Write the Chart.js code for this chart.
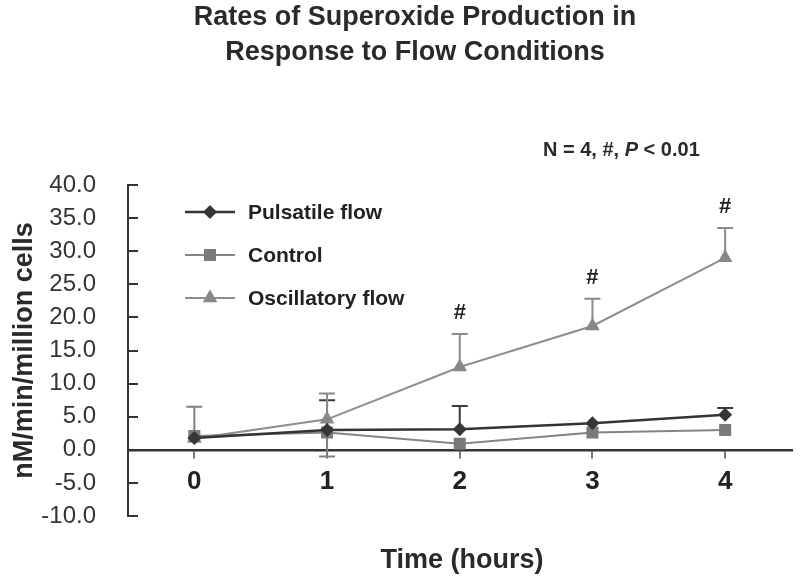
<!DOCTYPE html>
<html><head><meta charset="utf-8">
<script src="https://cdn.jsdelivr.net/npm/chart.js@4.4.0/dist/chart.umd.min.js"></script>
<style>html,body{margin:0;padding:0;background:#fff}#wrap{width:800px;height:580px;position:relative;background:#fff}</style>
</head><body><div id="wrap"><canvas id="c" width="800" height="580"></canvas></div>
<script>
// ---- data ----
const hours = [0, 1, 2, 3, 4];
const xTickLabels = ['0', '1', '2', '3', '4'];
const yTickValues = [-10, -5, 0, 5, 10, 15, 20, 25, 30, 35, 40];
const seriesNames = ['Pulsatile flow', 'Control', 'Oscillatory flow'];
const pulsatile = [1.8, 3.0, 3.1, 4.0, 5.3];
const pulsatileErrUp = [0, 4.5, 3.5, 0, 1.0];
const pulsatileErrDown = [0, 0, 0, 0, 0];
const control = [2.1, 2.6, 0.9, 2.6, 3.0];
const controlErrUp = [4.4, 0, 0, 0, 0];
const controlErrDown = [0, 3.6, 0, 0, 0];
const oscillatory = [1.7, 4.6, 12.5, 18.7, 29.0];
const oscillatoryErrUp = [0, 3.9, 5.0, 4.1, 4.5];
const oscillatoryErrDown = [0, 0, 0, 0, 0];
const significance = ['', '', '#', '#', '#'];
const titleLines = ['Rates of Superoxide Production in', 'Response to Flow Conditions'];
const yTitle = 'nM/min/million cells';
const xTitle = 'Time (hours)';

const FONT = "'Liberation Sans', Arial, Helvetica, sans-serif";

function pts(vals) { return hours.map((h, i) => ({ x: h, y: vals[i] })); }

function drawMarker(ctx, style, x, y, r, color) {
  ctx.save();
  ctx.fillStyle = color;
  ctx.beginPath();
  if (style === 'rectRot') {
    ctx.moveTo(x - r, y); ctx.lineTo(x, y - r); ctx.lineTo(x + r, y); ctx.lineTo(x, y + r);
  } else if (style === 'rect') {
    const s = Math.SQRT1_2 * r;
    ctx.rect(x - s, y - s, 2 * s, 2 * s);
  } else {
    ctx.moveTo(x, y - r);
    ctx.lineTo(x + 0.866 * r, y + 0.5 * r);
    ctx.lineTo(x - 0.866 * r, y + 0.5 * r);
  }
  ctx.closePath();
  ctx.fill();
  ctx.restore();
}

const datasets = [
  { label: seriesNames[0], data: pts(pulsatile), errUp: pulsatileErrUp, errDown: pulsatileErrDown,
    borderColor: '#333333', backgroundColor: '#333333', borderWidth: 2.5,
    pointStyle: 'rectRot', pointRadius: 7, pointBackgroundColor: '#363636', pointBorderColor: '#363636', pointBorderWidth: 0, errColor: '#3a3a3a' },
  { label: seriesNames[1], data: pts(control), errUp: controlErrUp, errDown: controlErrDown,
    borderColor: '#848484', backgroundColor: '#7a7a7a', borderWidth: 2,
    pointStyle: 'rect', pointRadius: 8.5, pointBackgroundColor: '#7a7a7a', pointBorderColor: '#7a7a7a', pointBorderWidth: 0, errColor: '#808080' },
  { label: seriesNames[2], data: pts(oscillatory), errUp: oscillatoryErrUp, errDown: oscillatoryErrDown,
    borderColor: '#8e8e8e', backgroundColor: '#888888', borderWidth: 2,
    pointStyle: 'triangle', pointRadius: 8.5, pointBackgroundColor: '#888888', pointBorderColor: '#888888', pointBorderWidth: 0, errColor: '#8a8a8a' }
];

const errorBars = {
  id: 'errorBars',
  beforeDatasetsDraw(chart) {
    const ctx = chart.ctx, xs = chart.scales.x, ys = chart.scales.y;
    chart.data.datasets.forEach(ds => {
      ctx.save();
      ctx.strokeStyle = ds.errColor; ctx.lineWidth = 2;
      ds.data.forEach((p, i) => {
        const px = xs.getPixelForValue(p.x);
        const y0 = ys.getPixelForValue(p.y);
        [[ds.errUp[i], 1], [ds.errDown[i], -1]].forEach(([e, dir]) => {
          if (!e) return;
          const ye = ys.getPixelForValue(p.y + dir * e);
          ctx.beginPath();
          ctx.moveTo(px, y0); ctx.lineTo(px, ye);
          ctx.moveTo(px - 8, ye); ctx.lineTo(px + 8, ye);
          ctx.stroke();
        });
      });
      ctx.restore();
    });
  },
  afterDraw(chart) {
    const ctx = chart.ctx, xs = chart.scales.x, ys = chart.scales.y;
    const area = chart.chartArea;
    ctx.save();
    // inward y ticks
    ctx.strokeStyle = '#333'; ctx.lineWidth = 2;
    ys.ticks.forEach(t => {
      const py = Math.round(ys.getPixelForValue(t.value));
      ctx.beginPath(); ctx.moveTo(area.left, py); ctx.lineTo(area.left + 10, py); ctx.stroke();
    });
    // significance marks
    ctx.fillStyle = '#222';
    ctx.font = `bold 22px ${FONT}`;
    ctx.textAlign = 'center'; ctx.textBaseline = 'middle';
    significance.forEach((s, i) => {
      if (!s) return;
      const py = ys.getPixelForValue(oscillatory[i] + oscillatoryErrUp[i]) - 21;
      ctx.fillText(s, xs.getPixelForValue(hours[i]), py);
    });
    // legend
    const rows = [212, 255, 298];
    chart.data.datasets.forEach((ds, i) => {
      const y = rows[i];
      ctx.strokeStyle = ds.borderColor; ctx.lineWidth = ds.borderWidth;
      ctx.beginPath(); ctx.moveTo(185, y); ctx.lineTo(235, y); ctx.stroke();
      drawMarker(ctx, ds.pointStyle, 210, y, ds.pointRadius, ds.pointBackgroundColor);
      ctx.fillStyle = '#222';
      ctx.font = `bold 21px ${FONT}`;
      ctx.textAlign = 'left'; ctx.textBaseline = 'middle';
      ctx.fillText(ds.label, 248, y + 1);
    });
    // title
    ctx.fillStyle = '#2a2a2a';
    ctx.font = `bold 27px ${FONT}`;
    ctx.textAlign = 'center'; ctx.textBaseline = 'alphabetic';
    ctx.fillText(titleLines[0], 415, 25);
    ctx.fillText(titleLines[1], 415, 60);
    // x title
    ctx.fillText(xTitle, 462, 568);
    // y title
    ctx.save();
    ctx.translate(32, (area.top + area.bottom) / 2);
    ctx.rotate(-Math.PI / 2);
    ctx.fillText(yTitle, 0, 0);
    ctx.restore();
    // N text
    ctx.textAlign = 'left';
    let x = 543; const by = 156;
    const segs = [['N = 4, #, ', 'bold'], ['P', 'italic bold'], [' < 0.01', 'bold']];
    segs.forEach(([t, st]) => {
      ctx.font = `${st} 20px ${FONT}`;
      ctx.fillText(t, x, by);
      x += ctx.measureText(t).width;
    });
    ctx.restore();
  }
};

new Chart(document.getElementById('c'), {
  type: 'line',
  data: { datasets },
  options: {
    responsive: false, animation: false, devicePixelRatio: 1,
    layout: { padding: { top: 185, right: 3, bottom: 64, left: 0 } },
    plugins: { legend: { display: false }, title: { display: false }, tooltip: { enabled: false } },
    elements: { line: { tension: 0 } },
    scales: {
      x: {
        type: 'linear', position: { y: 0 }, min: -0.5, max: 4.5,
        afterBuildTicks: s => { s.ticks = hours.map(v => ({ value: v })); },
        ticks: { callback: (v) => xTickLabels[hours.indexOf(v)], font: { family: FONT, size: 26, weight: 'bold' }, color: '#222', padding: 9, maxRotation: 0, autoSkip: false },
        grid: { drawOnChartArea: false, drawTicks: true, tickLength: 7, color: '#777', lineWidth: 2 },
        border: { display: true, color: '#333', width: 2.5 }
      },
      y: {
        min: -10, max: 40,
        afterBuildTicks: s => { s.ticks = yTickValues.map(v => ({ value: v })); },
        afterFit: s => { s.width = 128; },
        ticks: { callback: v => Number(v).toFixed(1), font: { family: FONT, size: 24 }, color: '#333', padding: 24 },
        grid: { display: false },
        border: { display: true, color: '#333', width: 2 }
      }
    }
  },
  plugins: [errorBars]
});
</script></body></html>
